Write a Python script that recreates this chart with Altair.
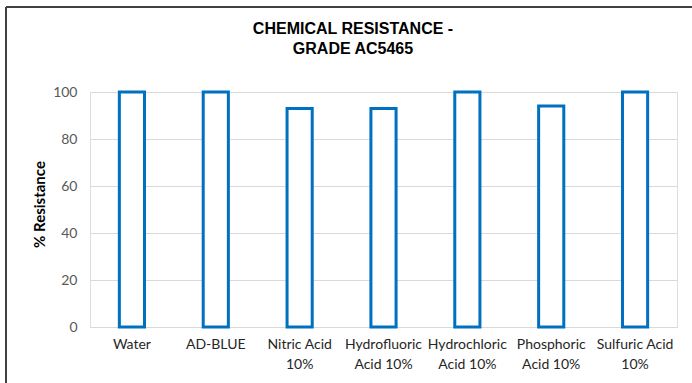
import altair as alt
import pandas as pd

title_lines = ["CHEMICAL RESISTANCE -", "GRADE AC5465"]
categories = ["Water", "AD-BLUE", "Nitric Acid\n10%", "Hydrofluoric\nAcid 10%",
              "Hydrochloric\nAcid 10%", "Phosphoric\nAcid 10%", "Sulfuric Acid\n10%"]
resistance = [100, 100, 93, 93, 100, 94, 100]
y_ticks = [0, 20, 40, 60, 80, 100]

df = pd.DataFrame({"Chemical": categories, "Resistance": resistance})

bars = alt.Chart(df).mark_bar(
    fill="white", stroke="#0070C0", strokeWidth=3, strokeJoin="miter"
).encode(
    x=alt.X("Chemical:N", sort=categories, title=None,
            scale=alt.Scale(paddingInner=0.7, paddingOuter=0.35),
            axis=alt.Axis(labelAngle=0, labelExpr="split(datum.label, '\\n')",
                          labelFont="Lato", labelFontSize=14, labelColor="#262626",
                          labelLineHeight=20, labelPadding=10, ticks=False,
                          domain=True, domainColor="#D9D9D9", labelLimit=200)),
    y=alt.Y("Resistance:Q", title="% Resistance",
            scale=alt.Scale(domain=[0, 100], nice=False),
            axis=alt.Axis(values=y_ticks, grid=True, gridColor="#D9D9D9",
                          ticks=False, domain=False, labelFont="Lato",
                          labelFontSize=14, labelColor="#595959", labelPadding=13,
                          titleFont="Lato", titleFontSize=15, titleFontWeight="bold",
                          titleColor="black", titleX=-51, titleY=112,
                          titleBaseline="middle", titleAngle=-90)),
)

# chart title (placed like the spreadsheet's, centred on the chart area)
title = alt.Chart(pd.DataFrame({"t": [0]})).mark_text(
    text=title_lines, font="Liberation Sans", fontSize=16, fontWeight="bold",
    color="black", align="center", baseline="top", lineHeight=20
).encode(x=alt.value(263), y=alt.value(-71))

# chart-area border (decorative)
border_top = alt.Chart(df).mark_rule(color="#404040", strokeWidth=1).encode(
    x=alt.value(-84), x2=alt.value(620), y=alt.value(-85))
border_left = alt.Chart(df).mark_rule(color="#404040", strokeWidth=1).encode(
    x=alt.value(-84), y=alt.value(-85), y2=alt.value(320))

chart = alt.layer(border_top, border_left, bars, title).properties(
    width=587, height=235,
    autosize=alt.AutoSizeParams(type="none"),
    padding={"left": 90, "top": 92, "right": 15, "bottom": 56},
).configure_view(stroke=None).configure(background="white")

chart.save("out.html", embed_options={"renderer": "svg", "actions": False})
